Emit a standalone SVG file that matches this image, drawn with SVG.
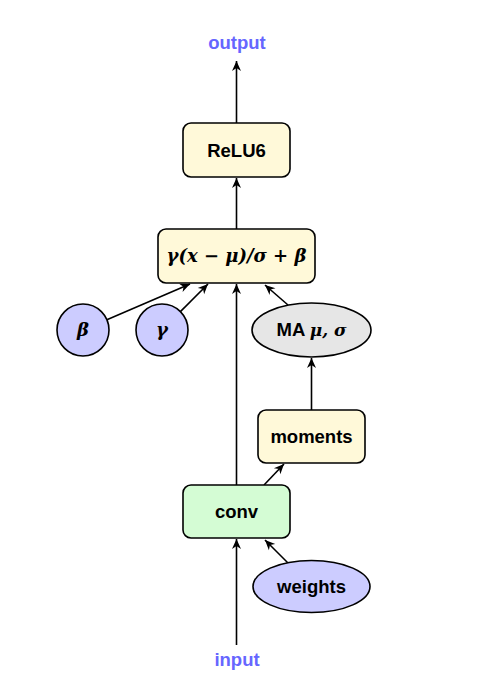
<svg xmlns="http://www.w3.org/2000/svg" width="499" height="689" viewBox="0 0 499 689">
<style>
.box{stroke:#000;stroke-width:1.6}
.op{fill:#fff9d9}
.cv{fill:#d4fcd4}
.pm{fill:#ccccff}
.ma{fill:#e6e6e6}
.t{font-family:"Liberation Sans",Arial,sans-serif;font-weight:bold;font-size:18.5px;text-anchor:middle;fill:#000}
.io{font-family:"Liberation Sans",Arial,sans-serif;font-weight:bold;font-size:18.5px;text-anchor:middle;fill:#6666ff}
.m{font-family:"DejaVu Serif","Liberation Serif",serif;font-style:italic;font-weight:bold;font-size:18px;text-anchor:middle;fill:#000}
.e{fill:none;stroke:#000;stroke-width:1.6;marker-end:url(#ah)}
</style>
<defs>
<marker id="ah" markerUnits="userSpaceOnUse" markerWidth="14" markerHeight="12" viewBox="-11 -6 13 12" refX="0" refY="0" orient="auto">
<path d="M0,0 L-10,-4.5 L-7,0 L-10,4.5 Z" fill="#000"/>
</marker>
</defs>
<rect width="499" height="689" fill="#fff"/>
<g id="connectors">
<line class="e" x1="236.5" y1="123" x2="236.5" y2="61"/>
<line class="e" x1="236.5" y1="229" x2="236.5" y2="178"/>
<line class="e" x1="106.9" y1="319.7" x2="190" y2="284"/>
<line class="e" x1="180.4" y1="311.6" x2="208" y2="284"/>
<line class="e" x1="236.5" y1="485" x2="236.5" y2="284"/>
<line class="e" x1="288" y1="305" x2="265" y2="285"/>
<line class="e" x1="311.5" y1="410" x2="311.5" y2="358"/>
<line class="e" x1="264" y1="485" x2="284" y2="464"/>
<line class="e" x1="288" y1="563" x2="265" y2="540"/>
<line class="e" x1="236.5" y1="645" x2="236.5" y2="539"/>
</g>
<g id="output"><text class="io" x="237" y="49">output</text></g>
<g id="relu6">
<rect class="box op" x="183" y="123" width="107" height="54" rx="8"/>
<text class="t" x="236.5" y="157">ReLU6</text>
</g>
<g id="bn">
<rect class="box op" x="158" y="229" width="157" height="54" rx="8"/>
<text class="m" x="236.5" y="262">γ(x − μ)/σ + β</text>
</g>
<g id="beta">
<circle class="box pm" cx="83" cy="330" r="26"/>
<text class="m" x="83" y="336">β</text>
</g>
<g id="gamma">
<circle class="box pm" cx="162" cy="330" r="26"/>
<text class="m" x="162" y="336">γ</text>
</g>
<g id="ma">
<ellipse class="box ma" cx="311.5" cy="330" rx="59.5" ry="27"/>
<text class="t" x="311.5" y="336">MA <tspan font-family="DejaVu Serif,serif" font-style="italic" font-size="17">μ, σ</tspan></text>
</g>
<g id="moments">
<rect class="box op" x="258" y="410" width="107" height="53" rx="8"/>
<text class="t" x="311.5" y="443">moments</text>
</g>
<g id="conv">
<rect class="box cv" x="183" y="485" width="107" height="53" rx="8"/>
<text class="t" x="236.5" y="518">conv</text>
</g>
<g id="weights">
<ellipse class="box pm" cx="311.5" cy="586.5" rx="58.5" ry="26"/>
<text class="t" x="311.5" y="593">weights</text>
</g>
<g id="input"><text class="io" x="237" y="666">input</text></g>
</svg>
